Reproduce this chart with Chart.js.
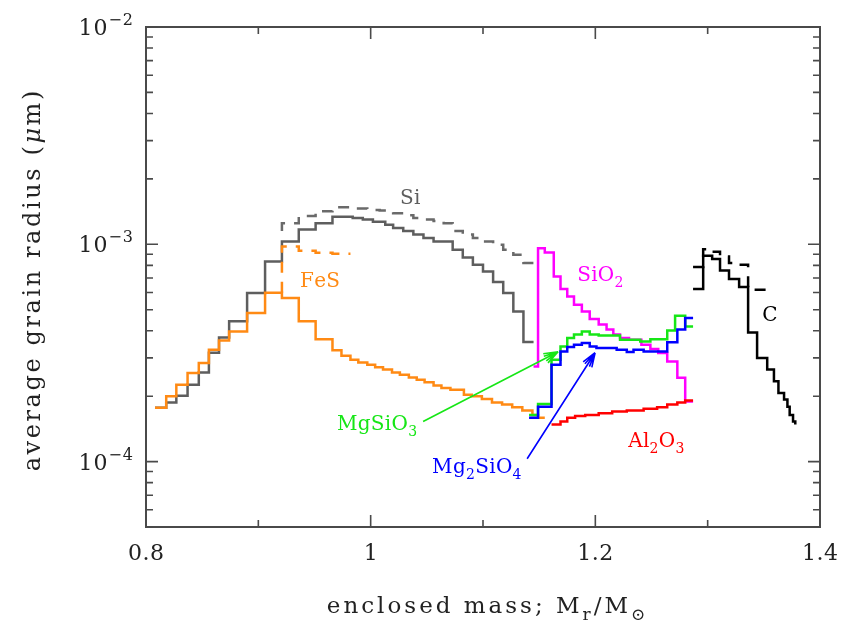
<!DOCTYPE html>
<html>
<head>
<meta charset="utf-8">
<script src="https://cdn.jsdelivr.net/npm/chart.js@4.4.0/dist/chart.umd.min.js"></script>
<style>
  html, body { margin: 0; padding: 0; background: #fff; }
  #wrap { width: 850px; height: 626px; }
</style>
</head>
<body>
<div id="wrap"><canvas id="grain" width="850" height="626"></canvas></div>
<script>
// each series: bin left edges in M_r/M_sun (last entry = right edge of last bin)
// and the average grain radius (micron) in that bin (last value repeated)
const siMass = [0.808, 0.818, 0.827, 0.837, 0.847, 0.856, 0.865, 0.874, 0.890, 0.906,
  0.921, 0.936, 0.951, 0.966, 0.975, 0.984, 0.993, 1.002, 1.013, 1.020,
  1.029, 1.038, 1.047, 1.056, 1.065, 1.073, 1.082, 1.091, 1.100, 1.109,
  1.118, 1.127, 1.136, 1.145];
const siRadius = [1.77e-4, 1.87e-4, 2.01e-4, 2.26e-4, 2.57e-4, 3.17e-4, 3.72e-4, 4.42e-4, 5.97e-4, 8.34e-4,
  1.03e-3, 1.17e-3, 1.25e-3, 1.34e-3, 1.34e-3, 1.32e-3, 1.30e-3, 1.27e-3, 1.23e-3, 1.19e-3,
  1.15e-3, 1.11e-3, 1.07e-3, 1.03e-3, 1.03e-3, 9.44e-4, 8.7e-4, 8.05e-4, 7.5e-4, 6.7e-4,
  5.97e-4, 4.91e-4, 3.55e-4, 3.55e-4];

const siDashMass = [0.921, 0.921, 0.936, 0.951, 0.966, 0.984, 0.997, 1.008, 1.020, 1.029,
  1.038, 1.047, 1.056, 1.065, 1.073, 1.082, 1.091, 1.100, 1.109, 1.118,
  1.127, 1.136, 1.145];
const siDashRadius = [1.15e-3, 1.25e-3, 1.35e-3, 1.42e-3, 1.48e-3, 1.46e-3, 1.44e-3, 1.43e-3, 1.39e-3, 1.36e-3,
  1.32e-3, 1.30e-3, 1.28e-3, 1.25e-3, 1.15e-3, 1.11e-3, 1.07e-3, 1.03e-3, 9.95e-4, 9.44e-4,
  8.95e-4, 8.2e-4, 8.2e-4];

const fesMass = [0.808, 0.818, 0.827, 0.837, 0.847, 0.856, 0.865, 0.874, 0.890, 0.906,
  0.921, 0.936, 0.951, 0.966, 0.974, 0.982, 0.989, 0.997, 1.004, 1.011,
  1.019, 1.026, 1.034, 1.041, 1.048, 1.056, 1.063, 1.071, 1.083, 1.090,
  1.099, 1.108, 1.117, 1.126, 1.135, 1.144, 1.149, 1.155];
const fesRadius = [1.77e-4, 2.0e-4, 2.26e-4, 2.56e-4, 2.84e-4, 3.27e-4, 3.61e-4, 3.97e-4, 4.83e-4, 5.99e-4,
  5.66e-4, 4.42e-4, 3.66e-4, 3.25e-4, 3.07e-4, 2.94e-4, 2.86e-4, 2.79e-4, 2.72e-4, 2.65e-4,
  2.57e-4, 2.51e-4, 2.44e-4, 2.38e-4, 2.32e-4, 2.24e-4, 2.18e-4, 2.14e-4, 2.03e-4, 2.0e-4,
  1.94e-4, 1.87e-4, 1.83e-4, 1.78e-4, 1.72e-4, 1.64e-4, 1.59e-4, 1.59e-4];

const fesDashMass = [0.921, 0.921, 0.936, 0.951, 0.966, 0.982];
const fesDashRadius = [5.99e-4, 9.77e-4, 9.33e-4, 9.14e-4, 9.04e-4, 9.04e-4];

const sio2Mass = [1.145, 1.149, 1.155, 1.163, 1.169, 1.175, 1.181, 1.188, 1.195, 1.203,
  1.210, 1.216, 1.222, 1.230, 1.241, 1.249, 1.256, 1.264, 1.273, 1.280, 1.287];
const sio2Radius = [2.74e-4, 9.6e-4, 9.17e-4, 7.11e-4, 6.22e-4, 5.75e-4, 5.27e-4, 4.91e-4, 4.53e-4, 4.27e-4,
  4.05e-4, 3.84e-4, 3.70e-4, 3.64e-4, 3.45e-4, 3.30e-4, 3.16e-4, 2.89e-4, 2.43e-4, 1.89e-4, 1.89e-4];

const mgsio3Mass = [1.141, 1.149, 1.161, 1.169, 1.175, 1.181, 1.188, 1.195, 1.203, 1.222,
  1.240, 1.249, 1.264, 1.271, 1.280, 1.287];
const mgsio3Radius = [1.64e-4, 1.84e-4, 2.94e-4, 3.39e-4, 3.70e-4, 3.84e-4, 3.97e-4, 3.84e-4, 3.80e-4, 3.64e-4,
  3.57e-4, 3.66e-4, 4.01e-4, 4.69e-4, 4.19e-4, 4.19e-4];

const mg2sio4Mass = [1.141, 1.149, 1.161, 1.169, 1.175, 1.181, 1.188, 1.195, 1.201, 1.219,
  1.228, 1.234, 1.243, 1.264, 1.273, 1.280, 1.287];
const mg2sio4Radius = [1.59e-4, 1.79e-4, 2.79e-4, 3.21e-4, 3.37e-4, 3.45e-4, 3.51e-4, 3.39e-4, 3.33e-4, 3.27e-4,
  3.19e-4, 3.27e-4, 3.21e-4, 3.54e-4, 4.05e-4, 4.58e-4, 4.58e-4];

const al2o3Mass = [1.161, 1.169, 1.175, 1.182, 1.191, 1.203, 1.215, 1.228, 1.243, 1.255,
  1.264, 1.273, 1.280, 1.287];
const al2o3Radius = [1.48e-4, 1.53e-4, 1.59e-4, 1.62e-4, 1.64e-4, 1.67e-4, 1.70e-4, 1.72e-4, 1.75e-4, 1.78e-4,
  1.83e-4, 1.87e-4, 1.91e-4, 1.91e-4];

const cMass = [1.287, 1.296, 1.304, 1.311, 1.319, 1.328, 1.336, 1.344, 1.353, 1.359,
  1.363, 1.368, 1.371, 1.373, 1.376, 1.378];
const cRadius = [6.22e-4, 8.86e-4, 8.55e-4, 7.58e-4, 6.92e-4, 6.36e-4, 3.93e-4, 3.0e-4, 2.65e-4, 2.34e-4,
  2.07e-4, 1.93e-4, 1.79e-4, 1.64e-4, 1.53e-4, 1.48e-4];

const cDashMass = [1.287, 1.296, 1.304, 1.311, 1.319, 1.328, 1.336, 1.354];
const cDashRadius = [7.86e-4, 9.5e-4, 9.24e-4, 8.79e-4, 8.2e-4, 8.05e-4, 6.18e-4, 6.18e-4];

// axis ticks
const xMajorTicks = [0.8, 1, 1.2, 1.4];
const xMinorTicks = [0.9, 1.1, 1.3];
const xTickLabels = ['0.8', '1', '1.2', '1.4'];
const yDecades = [-4, -3, -2];

const SERIF = '"DejaVu Serif", "Liberation Serif", serif';
const AXIS = '#4a4a4a';
const INK = '#222';

const colors = {
  si: '#5e5e5e', fes: '#ff8a14', sio2: '#ff00ff', mgsio3: '#16e616',
  mg2sio4: '#0000ff', al2o3: '#ff0000', c: '#000000'
};

// species labels: text parts, data position of left end / baseline
const labels = [
  { parts: [['Si']], at: [1.0262, 1.54e-3], color: '#5e5e5e' },
  { parts: [['FeS']], at: [0.9371, 6.38e-4], color: colors.fes },
  { parts: [['SiO'], ['2', 'sub']], at: [1.1838, 6.8e-4], color: colors.sio2 },
  { parts: [['C']], at: [1.3485, 4.45e-4], color: colors.c },
  { parts: [['MgSiO'], ['3', 'sub']], at: [0.970, 1.40e-4], color: colors.mgsio3 },
  { parts: [['Mg'], ['2', 'sub'], ['SiO'], ['4', 'sub']], at: [1.0547, 8.9e-5], color: colors.mg2sio4 },
  { parts: [['Al'], ['2', 'sub'], ['O'], ['3', 'sub']], at: [1.2292, 1.17e-4], color: colors.al2o3 }
];
const arrows = [
  { from: [1.0467, 1.53e-4], to: [1.1669, 3.2e-4], color: colors.mgsio3 },
  { from: [1.1393, 1.03e-4], to: [1.1998, 3.17e-4], color: colors.mg2sio4 }
];

function steps(mass, radius) {
  return mass.map((m, i) => ({ x: m, y: radius[i] }));
}

function series(mass, radius, color, dashed) {
  return {
    data: steps(mass, radius),
    borderColor: color,
    borderWidth: 2.5,
    borderDash: dashed ? [11, 9] : [],
    borderJoinStyle: 'miter',
    stepped: true,
    pointRadius: 0,
    fill: false
  };
}

function fontFor(kind, size) {
  if (kind === 'sub' || kind === 'sup') return Math.round(size * 0.72) + 'px ' + SERIF;
  if (kind === 'it') return 'italic ' + size + 'px ' + SERIF;
  return size + 'px ' + SERIF;
}

// draw text made of normal / sub / sup / italic pieces, optional extra letter spacing
function drawRich(ctx, parts, x, y, size, align, spacing) {
  const sp = spacing || 0;
  const charW = (ch, kind) => { ctx.font = fontFor(kind, size); return ctx.measureText(ch).width + sp; };
  let w = 0;
  parts.forEach(p => { for (const ch of p[0]) w += charW(ch, p[1]); });
  w -= sp;
  if (align === 'center') x -= w / 2;
  if (align === 'right') x -= w;
  ctx.textBaseline = 'alphabetic';
  ctx.textAlign = 'left';
  parts.forEach(p => {
    let dy = 0;
    if (p[1] === 'sub') dy = size * 0.32;
    if (p[1] === 'sup') dy = -size * 0.45;
    for (const ch of p[0]) {
      const cw = charW(ch, p[1]);
      ctx.fillText(ch, x, y + dy);
      x += cw;
    }
  });
  return w;
}

const decorations = {
  id: 'decorations',
  afterDatasetsDraw(chart) {
    const { ctx, chartArea: a, scales: { x, y } } = chart;
    ctx.save();

    // arrows
    arrows.forEach(ar => {
      const x0 = x.getPixelForValue(ar.from[0]), y0 = y.getPixelForValue(ar.from[1]);
      const x1 = x.getPixelForValue(ar.to[0]), y1 = y.getPixelForValue(ar.to[1]);
      const ang = Math.atan2(y1 - y0, x1 - x0);
      ctx.strokeStyle = ar.color;
      ctx.lineWidth = 1.6;
      ctx.beginPath();
      ctx.moveTo(x0, y0);
      ctx.lineTo(x1, y1);
      [-0.35, -0.18, 0.18, 0.35].forEach(d => {
        ctx.moveTo(x1, y1);
        ctx.lineTo(x1 - 15 * Math.cos(ang + d), y1 - 15 * Math.sin(ang + d));
      });
      ctx.stroke();
    });

    // frame
    ctx.strokeStyle = AXIS;
    ctx.lineWidth = 2;
    ctx.strokeRect(a.left, a.top, a.right - a.left, a.bottom - a.top);

    // x ticks, inward on bottom and top
    ctx.lineWidth = 1.6;
    ctx.beginPath();
    xMajorTicks.concat(xMinorTicks).forEach(v => {
      const px = x.getPixelForValue(v);
      const len = xMajorTicks.includes(v) ? 12 : 7;
      ctx.moveTo(px, a.bottom); ctx.lineTo(px, a.bottom - len);
      ctx.moveTo(px, a.top); ctx.lineTo(px, a.top + len);
    });
    // y ticks, inward on left and right
    for (let k = -5; k <= -2; k++) {
      for (let m = 1; m <= 9; m++) {
        const v = m * Math.pow(10, k);
        if (v < y.min * 0.999 || v > y.max * 1.001) continue;
        const py = y.getPixelForValue(v);
        const len = m === 1 ? 12 : 7;
        ctx.moveTo(a.left, py); ctx.lineTo(a.left + len, py);
        ctx.moveTo(a.right, py); ctx.lineTo(a.right - len, py);
      }
    }
    ctx.stroke();

    // tick labels
    ctx.fillStyle = INK;
    xMajorTicks.forEach((v, i) => {
      drawRich(ctx, [[xTickLabels[i]]], x.getPixelForValue(v), a.bottom + 33, 22, 'center', 0.5);
    });
    yDecades.forEach(e => {
      const py = y.getPixelForValue(Math.pow(10, e));
      drawRich(ctx, [['10'], ['\u2212' + Math.abs(e), 'sup']], a.left - 13, py + 8, 22, 'right', 1);
    });

    // axis titles
    drawRich(ctx, [['enclosed mass; M'], ['r', 'sub'], ['/M'], ['\u2299', 'sub']],
      (a.left + a.right) / 2 + 3, a.bottom + 86, 23, 'center', 3);
    ctx.save();
    ctx.translate(40, (a.top + a.bottom) / 2 + 4);
    ctx.rotate(-Math.PI / 2);
    drawRich(ctx, [['average grain radius ('], ['\u03bc', 'it'], ['m)']], 0, 0, 24, 'center', 2.6);
    ctx.restore();

    // species labels
    labels.forEach(l => {
      ctx.fillStyle = l.color;
      drawRich(ctx, l.parts, x.getPixelForValue(l.at[0]), y.getPixelForValue(l.at[1]), 20, 'left', 0.3);
    });
    ctx.restore();
  }
};

new Chart(document.getElementById('grain'), {
  type: 'line',
  data: {
    datasets: [
      series(cMass, cRadius, colors.c, false),
      series(cDashMass, cDashRadius, colors.c, true),
      series(al2o3Mass, al2o3Radius, colors.al2o3, false),
      series(mg2sio4Mass, mg2sio4Radius, colors.mg2sio4, false),
      series(mgsio3Mass, mgsio3Radius, colors.mgsio3, false),
      series(sio2Mass, sio2Radius, colors.sio2, false),
      series(fesMass, fesRadius, colors.fes, false),
      series(fesDashMass, fesDashRadius, colors.fes, true),
      series(siMass, siRadius, colors.si, false),
      series(siDashMass, siDashRadius, '#6a6a6a', true)
    ]
  },
  options: {
    responsive: false,
    animation: false,
    layout: { padding: { left: 146, right: 30, top: 27, bottom: 99 } },
    plugins: { legend: { display: false }, tooltip: { enabled: false } },
    scales: {
      x: { type: 'linear', min: 0.8, max: 1.4, display: false },
      y: { type: 'logarithmic', min: 5e-5, max: 1e-2, display: false }
    }
  },
  plugins: [decorations]
});
</script>
</body>
</html>
